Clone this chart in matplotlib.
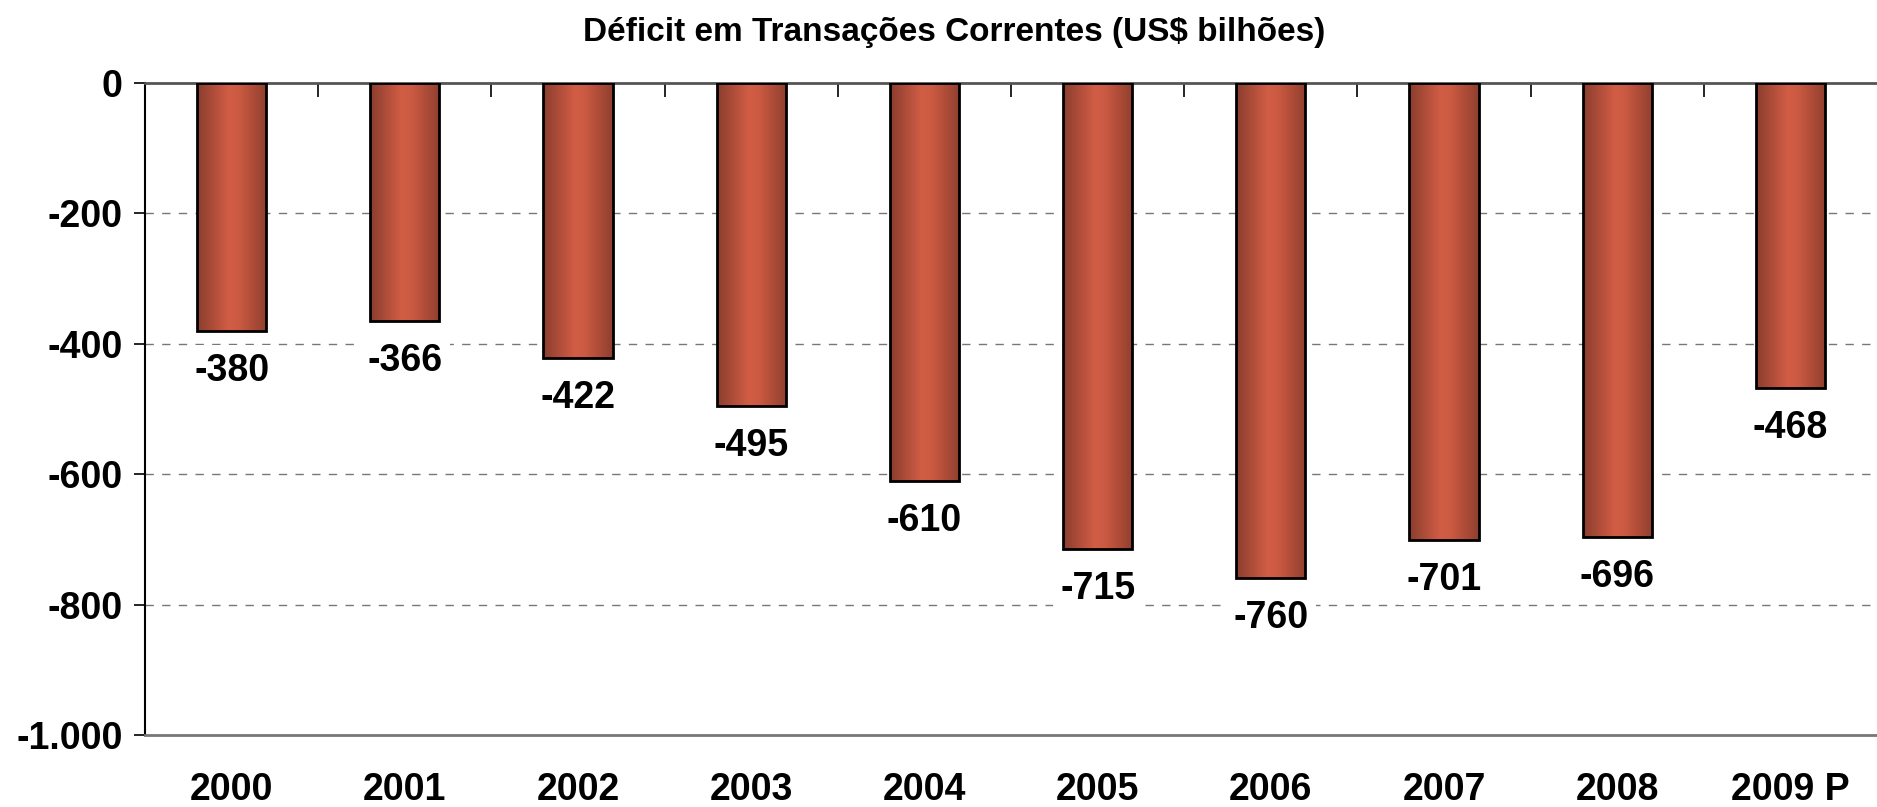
import matplotlib
matplotlib.use("Agg")
import matplotlib.pyplot as plt
from matplotlib.colors import LinearSegmentedColormap
import numpy as np

years = ["2000", "2001", "2002", "2003", "2004", "2005", "2006", "2007", "2008", "2009 P"]
deficit = [-380, -366, -422, -495, -610, -715, -760, -701, -696, -468]
y_ticks = [0, -200, -400, -600, -800, -1000]
y_tick_labels = ["0", "-200", "-400", "-600", "-800", "-1.000"]
title = "Déficit em Transações Correntes (US$ bilhões)"

plt.rcParams["font.family"] = ["Liberation Sans", "DejaVu Sans"]
plt.rcParams["font.weight"] = "bold"

W, H = 1877, 807
fig = plt.figure(figsize=(W / 100, H / 100), dpi=100)
ax = fig.add_axes([145 / W, (H - 735) / H, 1 - 145 / W, (735 - 82.6) / H])

x = np.arange(len(years))
bar_w = 0.4

# horizontal gradient dark - bright - dark
cmap = LinearSegmentedColormap.from_list(
    "brick", [(0.0, "#8a3d2e"), (0.45, "#d15d45"), (0.6, "#cc5a42"), (1.0, "#8f3f2f")])
grad = np.linspace(0, 1, 256).reshape(1, -1)

bars = ax.bar(x, deficit, width=bar_w, facecolor="none", edgecolor="black", linewidth=2, zorder=3)
for b in bars:
    x0 = b.get_x()
    y0 = b.get_y()
    h = b.get_height()
    im = ax.imshow(grad, cmap=cmap, aspect="auto", extent=[x0, x0 + b.get_width(), y0 + h, y0],
                   zorder=2.5, interpolation="bilinear")
    im.set_clip_path(b)

for xi, v in zip(x, deficit):
    ax.annotate(f"{v}", (xi, v), xytext=(0, -40), textcoords="offset pixels",
                ha="center", va="center", fontsize=27, fontweight="bold", zorder=4,
                bbox=dict(boxstyle="square,pad=0.2", fc="white", ec="none"))

ax.set_xlim(-0.5, len(years) - 0.5)
ax.set_ylim(-1000, 0)
ax.set_yticks(y_ticks)
ax.set_yticklabels(y_tick_labels, fontsize=27, fontweight="bold")
ax.set_xticks(x)
ax.set_xticklabels(years, fontsize=27, fontweight="bold")
ax.set_xticks(np.arange(0.5, len(years) - 0.5, 1), minor=True)
ax.tick_params(axis="x", which="major", length=0, pad=27)
ax.tick_params(axis="x", which="minor", top=True, bottom=False, direction="in", length=10, width=1.2)
ax.tick_params(axis="y", direction="out", length=8, width=1.2, pad=8)

for yv in y_ticks[1:-1]:
    ax.axhline(yv, color="#777777", linestyle=(0, (6, 6)), linewidth=1, zorder=1)

ax.spines["right"].set_visible(False)
ax.spines["left"].set_color("black")
ax.spines["left"].set_linewidth(1.5)
ax.spines["top"].set_color("#555555")
ax.spines["top"].set_linewidth(2)
ax.spines["bottom"].set_color("#777777")
ax.spines["bottom"].set_linewidth(2)

fig.text(954 / W, 1 - 33 / H, title, ha="center", va="center", fontsize=24, fontweight="bold")

fig.savefig("out.png", dpi=100)
